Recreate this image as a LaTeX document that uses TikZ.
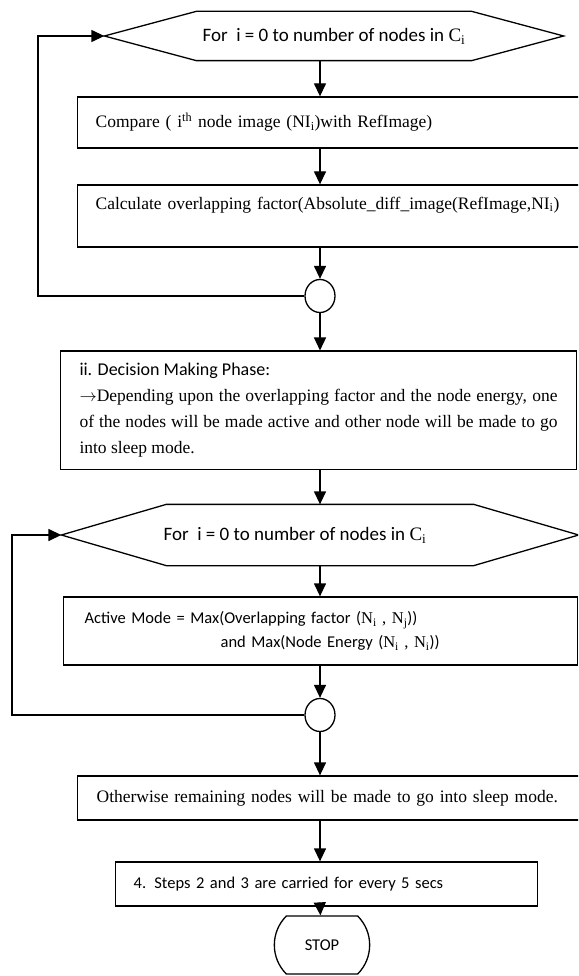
\documentclass[tikz,border=0pt]{standalone}
\usepackage{fontspec}
\setmainfont{Liberation Serif}
\setsansfont{Carlito}
\usetikzlibrary{arrows.meta,positioning,shapes.geometric,shapes.misc}

\begin{document}
\begin{tikzpicture}[x=1pt,y=-1pt,>={Triangle[length=13pt,width=12pt]},line width=1.3pt]
	\tikzstyle{box}=[draw,rectangle,inner xsep=18pt,align=left,font=\fontsize{17.5}{26}\selectfont]
	\tikzstyle{sbox}=[box,font=\sffamily\fontsize{16.5}{24}\selectfont]
	\tikzstyle{forhead}=[rectangle,inner sep=0pt,font=\sffamily\fontsize{19}{22}\selectfont]
	\tikzstyle{junction}=[draw,ellipse,minimum width=30pt,minimum height=33pt,inner sep=0pt]

	\useasboundingbox (0,0) rectangle (578,976);
	\clip (0,0) rectangle (578,976);

	% first loop
	\node[forhead,minimum width=458pt,minimum height=48pt] (for1) at (334,36) {For\ \ i = 0 to number of nodes in {\rmfamily C\textsubscript{i}}};
	\draw (for1.west) -- ([xshift=92pt]for1.north west) -- ([xshift=-92pt]for1.north east) -- (for1.east)
	      -- ([xshift=-92pt]for1.south east) -- ([xshift=92pt]for1.south west) -- cycle;
	\node[box,anchor=west,text width=520pt,minimum height=51pt] (cmp) at (77,122.5) {Compare ( i\textsuperscript{th} node image (NI\textsubscript{i})with RefImage)};
	\node[box,anchor=west,text width=520pt,minimum height=62pt] (calc) at (77,216) {Calculate overlapping factor(Absolute\_diff\_image(RefImage,NI\textsubscript{i})\\\mbox{}};
	\node[junction] (j1) at (320,296) {};

	% decision
	\node[box,anchor=south,inner xsep=19pt,inner ysep=12pt,text width=478pt,align=justify] (dec) at (318.5,470)
	     {{\sffamily\fontsize{18}{26}\selectfont ii. Decision Making Phase:}\\
	      $\rightarrow$Depending upon the overlapping factor and the node energy, one\linebreak
	      of the nodes will be made active and other node will be made to go\linebreak
	      into sleep mode.};

	% second loop
	\node[forhead,minimum width=516pt,minimum height=60pt] (for2) at (320,535) {For\ \ i = 0 to number of nodes in {\rmfamily C\textsubscript{i}}\hspace*{50pt}};
	\draw (for2.west) -- ([xshift=105pt]for2.north west) -- ([xshift=-105pt]for2.north east) -- (for2.east)
	      -- ([xshift=-105pt]for2.south east) -- ([xshift=105pt]for2.south west) -- cycle;
	\node[sbox,anchor=west,inner xsep=21pt,text width=472pt,minimum height=68pt] (act) at (63,631)
	     {Active Mode = Max(Overlapping factor ({\rmfamily N\textsubscript{i} , N\textsubscript{j}}))\\
	      \hspace*{136pt}and Max(Node Energy ({\rmfamily N\textsubscript{i} , N\textsubscript{i}}))};
	\node[junction] (j2) at (320,715) {};

	% end
	\node[box,anchor=west,inner xsep=19pt,text width=520pt,minimum height=44pt] (oth) at (77,798) {Otherwise remaining nodes will be made to go into sleep mode.};
	\node[sbox,anchor=west,text width=386pt,minimum height=44pt] (stp) at (115,884) {4. Steps 2 and 3 are carried for every 5 secs};
	\node[draw,rounded rectangle,rounded rectangle arc length=90,minimum width=102pt,minimum height=58pt,font=\sffamily\fontsize{16.5}{20}\selectfont] (stop) at (322,945) {STOP};

	\path[->] (for1.south -| j1) edge (cmp.north -| j1)
	          (cmp.south -| j1) edge (calc.north -| j1)
	          (calc.south -| j1) edge (j1)
	          (j1) edge (dec.north -| j1)
	          (dec.south -| j1) edge (for2.north -| j1)
	          (for2.south -| j1) edge (act.north -| j1)
	          (act.south -| j2) edge (j2)
	          (j2) edge (oth.north -| j2)
	          (oth.south -| j2) edge (stp.north -| j2)
	          (stp.south -| j2) edge (stop);

	\coordinate (fb1) at (38,0);
	\coordinate (fb2) at (12,0);
	\draw[->] (j1.west) -- (j1.west -| fb1) |- (for1.west);
	\draw[->] (j2.west) -- (j2.west -| fb2) |- (for2.west);
\end{tikzpicture}
\end{document}
